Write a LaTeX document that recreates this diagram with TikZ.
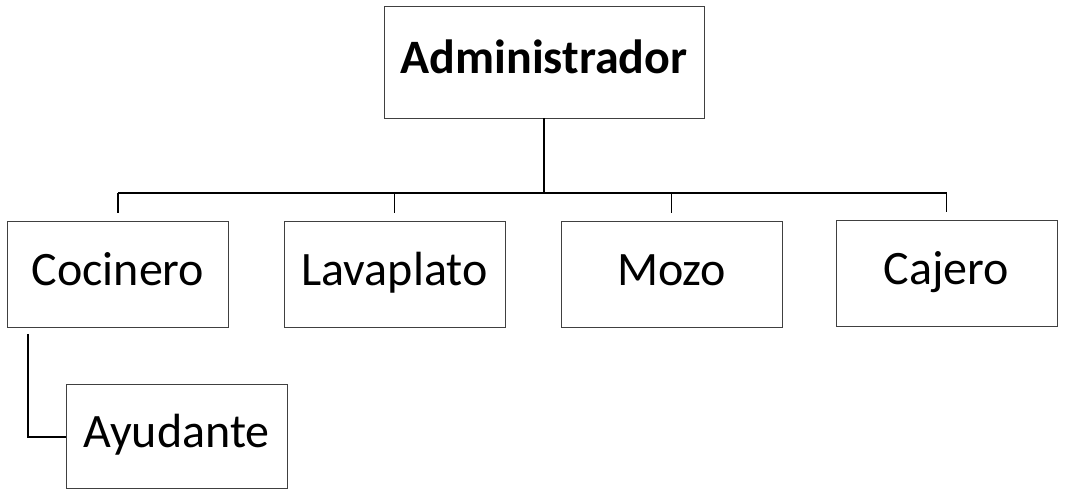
\documentclass[tikz,border=0pt]{standalone}
\usepackage{fontspec}
\setmainfont{Carlito}
\begin{document}
\begin{tikzpicture}[x=0.75pt,y=-0.75pt,
  box/.style={draw=black!75,line width=0.6pt,minimum width=221*0.75pt,minimum height=106*0.75pt,inner sep=0pt,text height=26pt,text depth=9pt,font=\fontsize{36}{42}\selectfont},
  conn/.style={draw=black,line width=1.1pt}]
\useasboundingbox (0,0) rectangle (1069,491);
\node[box,minimum width=320*0.75pt,minimum height=112*0.75pt,font=\fontsize{36}{42}\selectfont\bfseries] (admin) at (544,62) {Administrador};
\node[box] (coc) at (118,274.5) {Cocinero};
\node[box] (lav) at (394.5,274) {Lavaplato};
\node[box] (moz) at (671.5,274) {Mozo};
\node[box] (caj) at (946.5,273.5) {Cajero};
\node[box,minimum height=104*0.75pt] (ayu) at (176.5,436) {Ayudante};
\coordinate (bus) at (0,193);
\coordinate (elbow) at (28,437);
\draw[conn] (admin.south) -- (admin.south |- bus);
\draw[conn] (coc.north |- bus) -- (caj.north |- bus);
\foreach \n in {coc,lav,moz,caj}
  \draw[conn,shorten >=8*0.75pt] (\n.north |- bus) -- (\n.north);
\draw[conn,shorten <=6*0.75pt] (coc.south -| elbow) -- (elbow) -- (ayu.west |- elbow);
\end{tikzpicture}
\end{document}
